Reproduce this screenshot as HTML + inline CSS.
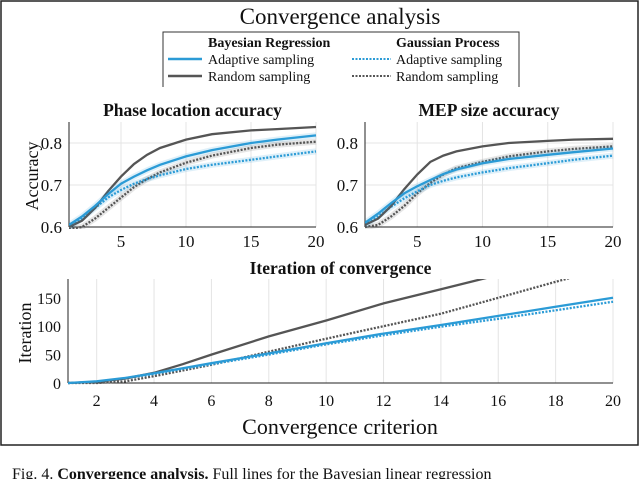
<!DOCTYPE html>
<html><head><meta charset="utf-8"><style>
body{margin:0;background:#fff;width:640px;height:479px;overflow:hidden}
svg{display:block}
text{font-family:"Liberation Serif",serif;fill:#111}
</style></head><body>
<svg width="640" height="479">
<rect x="1" y="1" width="637" height="444" fill="none" stroke="#222" stroke-width="1.5"/>
<text x="340" y="24" font-size="23" text-anchor="middle">Convergence analysis</text>
<g>
<path d="M163,87 V32 H519 V87" fill="none" stroke="#333" stroke-width="1"/>
<text x="208" y="47" font-size="14" font-weight="bold">Bayesian Regression</text>
<text x="396" y="47" font-size="14" font-weight="bold">Gaussian Process</text>
<line x1="168" y1="59" x2="202" y2="59" stroke="#2b9bd6" stroke-width="2.5"/>
<text x="208" y="64" font-size="14">Adaptive sampling</text>
<line x1="168" y1="76" x2="202" y2="76" stroke="#555" stroke-width="2.5"/>
<text x="208" y="81" font-size="14">Random sampling</text>
<line x1="352" y1="59" x2="391" y2="59" stroke="#2b9bd6" stroke-width="2" stroke-dasharray="2,1.5"/>
<text x="396" y="64" font-size="14">Adaptive sampling</text>
<line x1="352" y1="76" x2="391" y2="76" stroke="#555" stroke-width="2" stroke-dasharray="2,1.5"/>
<text x="396" y="81" font-size="14">Random sampling</text>
</g>
<g id="charts"></g>
<text x="12" y="479" font-size="16">Fig. 4.   <tspan font-weight="bold">Convergence analysis.</tspan> Full lines for the Bayesian linear regression</text>
</svg>
<script>
const accX=[1,2,3,4,5,6,7,8,10,12,15,17,20];
const phaseBrAdaptive=[0.605,0.625,0.65,0.678,0.703,0.72,0.735,0.748,0.768,0.783,0.8,0.808,0.818];
const phaseBrRandom=[0.6,0.615,0.645,0.685,0.72,0.75,0.772,0.788,0.808,0.821,0.83,0.833,0.838];
const phaseGpAdaptive=[0.6,0.62,0.645,0.67,0.688,0.703,0.714,0.723,0.738,0.748,0.76,0.768,0.78];
const phaseGpRandom=[0.595,0.6,0.62,0.645,0.67,0.695,0.714,0.73,0.753,0.77,0.788,0.796,0.803];
const mepBrAdaptive=[0.61,0.632,0.657,0.68,0.697,0.712,0.726,0.737,0.752,0.762,0.772,0.778,0.787];
const mepBrRandom=[0.605,0.62,0.65,0.69,0.725,0.755,0.77,0.78,0.792,0.8,0.805,0.808,0.81];
const mepGpAdaptive=[0.605,0.625,0.648,0.668,0.685,0.7,0.71,0.718,0.73,0.74,0.752,0.76,0.77];
const mepGpRandom=[0.6,0.605,0.625,0.65,0.68,0.705,0.725,0.74,0.755,0.768,0.78,0.786,0.792];
const iterX=[1,2,3,4,5,6,8,10,12,14,16,18,20];
const iterBrAdaptive=[0,3,9,17,26,35,52,70,87,102,118,134,150];
const iterGpAdaptive=[0,2,8,16,25,33,50,68,84,99,113,128,143];
const iterBrRandom=[0,2,8,18,33,50,82,110,140,165,190,215,240];
const iterGpRandom=[0,0,3,12,22,32,55,78,100,122,150,178,205];
const accTicksY=[0.6,0.7,0.8];
const accTicksX=[5,10,15,20];
const iterTicksY=[0,50,100,150];
const iterTicksX=[2,4,6,8,10,12,14,16,18,20];

const NS='http://www.w3.org/2000/svg';
const root=document.getElementById('charts');
function mk(tag,attrs,parent){const e=document.createElementNS(NS,tag);for(const k in attrs)e.setAttribute(k,attrs[k]);(parent||root).appendChild(e);return e;}
let clipId=0;
function chart(o){
  const g=mk('g',{});
  
  
  const sx=v=>o.x0+(v-o.xmin)/(o.xmax-o.xmin)*(o.x1-o.x0);
  const sy=v=>o.y0-(v-o.ymin)/(o.ymax-o.ymin)*(o.y0-o.y1);
  o.xt.forEach(t=>{mk('line',{x1:sx(t),x2:sx(t),y1:o.y1,y2:o.y0,stroke:'#e4e4e4','stroke-width':1},g);
    const tx=mk('text',{x:sx(t),y:o.y0+o.xlOff,'font-size':o.fs,'text-anchor':'middle'},g);tx.textContent=t;
    
    });
  o.yt.forEach(t=>{if(o.hgrid)mk('line',{x1:o.x0,x2:o.x1,y1:sy(t),y2:sy(t),stroke:'#e4e4e4','stroke-width':1},g);
    const tx=mk('text',{x:o.x0-7,y:sy(t)+6,'font-size':o.fs,'text-anchor':'end'},g);tx.textContent=t;
    
    });
  mk('line',{x1:o.x0,x2:o.x0,y1:o.y1,y2:o.y0,stroke:'#222','stroke-width':1},g);
  mk('line',{x1:o.x0,x2:o.x1,y1:o.y0,y2:o.y0,stroke:'#222','stroke-width':1},g);
  const id='c'+(clipId++);
  const cp=mk('clipPath',{id:id},g);mk('rect',{x:o.x0,y:o.y1,width:o.x1-o.x0+2,height:o.y0-o.y1+2},cp);
  o.series.forEach(s=>{
    const d=s.y.map((v,i)=>(i?'L':'M')+sx(o.xs[i]).toFixed(1)+','+sy(v).toFixed(1)).join(' ');
    if(s.band)mk('path',{d:d,fill:'none',stroke:s.c,'stroke-opacity':0.15,'stroke-width':6,'clip-path':'url(#'+id+')'},g);
    const p=mk('path',{d:d,fill:'none',stroke:s.c,'stroke-width':2.3,'stroke-dasharray':s.dot?'2,1.5':'none','clip-path':'url(#'+id+')'},g);
    
    
  });
  const t=mk('text',{x:(o.x0+o.x1)/2,y:o.ty,'font-size':17.5,'font-weight':'bold','text-anchor':'middle'},g);t.textContent=o.title;
  
  
}
const B='#2b9bd6',G='#555';
chart({name:'phase-location-chart',title:'Phase location accuracy',x0:69,x1:316,y0:227,y1:122,xmin:1,xmax:20,ymin:0.6,ymax:0.85,xt:accTicksX,yt:accTicksY,hgrid:true,fs:17,xlOff:20,ty:116,xs:accX,
 series:[{n:'phase-gp-random',y:phaseGpRandom,c:G,dot:1,band:1},{n:'phase-gp-adaptive',y:phaseGpAdaptive,c:B,dot:1,band:1},{n:'phase-br-random',y:phaseBrRandom,c:G},{n:'phase-br-adaptive',y:phaseBrAdaptive,c:B,band:1}]});
chart({name:'mep-size-chart',title:'MEP size accuracy',x0:365,x1:613,y0:227,y1:122,xmin:1,xmax:20,ymin:0.6,ymax:0.85,xt:accTicksX,yt:accTicksY,hgrid:true,fs:17,xlOff:20,ty:116,xs:accX,
 series:[{n:'mep-gp-random',y:mepGpRandom,c:G,dot:1,band:1},{n:'mep-gp-adaptive',y:mepGpAdaptive,c:B,dot:1,band:1},{n:'mep-br-random',y:mepBrRandom,c:G},{n:'mep-br-adaptive',y:mepBrAdaptive,c:B,band:1}]});
chart({name:'iteration-chart',title:'Iteration of convergence',x0:68,x1:613,y0:383,y1:279,xmin:1,xmax:20,ymin:0,ymax:183,xt:iterTicksX,yt:iterTicksY,hgrid:false,fs:16,xlOff:23,ty:274,xs:iterX,
 series:[{n:'iter-gp-random',y:iterGpRandom,c:G,dot:1},{n:'iter-gp-adaptive',y:iterGpAdaptive,c:B,dot:1},{n:'iter-br-random',y:iterBrRandom,c:G},{n:'iter-br-adaptive',y:iterBrAdaptive,c:B}]});
let t=mk('text',{x:0,y:0,'font-size':18,'text-anchor':'middle',transform:'translate(38,176) rotate(-90)'});t.textContent='Accuracy';


t=mk('text',{x:0,y:0,'font-size':18,'text-anchor':'middle',transform:'translate(31,333) rotate(-90)'});t.textContent='Iteration';


t=mk('text',{x:340,y:434,'font-size':22,'text-anchor':'middle'});t.textContent='Convergence criterion';


</script>
</body></html>
